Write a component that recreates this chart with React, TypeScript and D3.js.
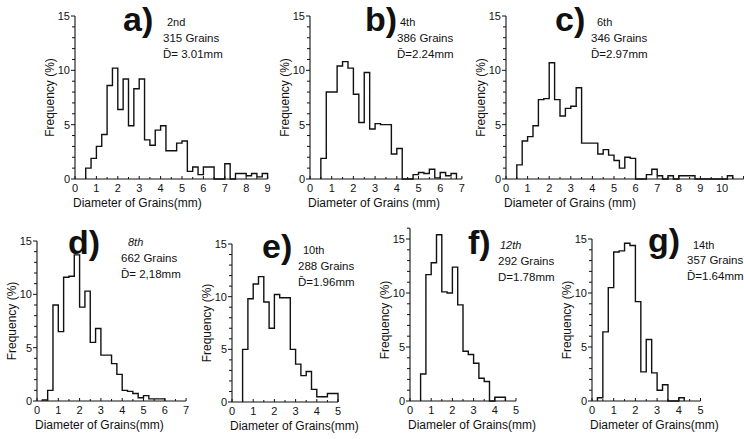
import * as d3 from 'd3';

// panel annotations
const letters = ['a', 'b', 'c', 'd', 'e', 'f', 'g'];
const runs = ['2nd', '4th', '6th', '8th', '10th', '12th', '14th'];
const grainCounts = [315, 386, 346, 662, 288, 292, 357];
const meanDiameters = ['3.01', '2.24', '2.97', '2,18', '1.96', '1.78', '1.64'];
const xTitles = ['Diameter of Grains(mm)', 'Diameter of Grains (mm)', 'Diameter of Grains (mm)',
  'Diameter of Grains(mm)', 'Diameter of Grains(mm)', 'Diameler of Grains(mm)', 'Diameter of Grains(mm)'];

// x axis extent (mm) and last labelled tick
const xMaxes = [9, 7, 11, 7, 5, 5, 5];
const xLabelMax = [9, 7, 10, 7, 5, 5, 5];
const yLabels = [0, 5, 10, 15];

// histogram bins: 0.25 mm wide, first bin left edge per panel
const binWidth = 0.25;
const firstBin = [0.5, 0.5, 0.5, 0.25, 0.5, 0.5, 0.25];

// frequency (%) per bin
const freqA = [1.0, 1.9, 3.0, 4.1, 8.6, 10.2, 6.4, 9.2, 4.9, 8.3, 9.2, 3.6, 3.1, 4.5, 4.9, 2.6, 2.6, 3.3, 3.5,
  0.7, 1.1, 0.4, 1.1, 1.1, 0, 0, 1.4, 0, 0.5, 0.5, 0.3, 0.5, 0.2, 0.5];
const freqB = [1.9, 8.0, 8.0, 10.4, 10.8, 10.2, 7.8, 5.2, 9.8, 4.6, 5.1, 5.0, 5.0, 2.3, 2.8, 0, 0,
  0.4, 0.6, 0.5, 0.9, 0.1, 0.6, 0.3, 0.5];
const freqC = [1.3, 3.5, 3.9, 4.9, 7.3, 7.4, 10.7, 7.3, 5.8, 6.5, 6.7, 8.4, 3.3, 3.3, 3.3, 2.3, 2.7, 2.2,
  1.7, 1.0, 2.0, 1.9, 0, 0, 0.4, 0.9, 0.3, 0, 0.3, 0, 0.3, 0.3, 0.3, 0, 0, 0, 0, 0, 0, 0.3];
const freqD = [0.1, 1.0, 9.0, 6.5, 11.6, 11.7, 13.7, 8.8, 10.3, 5.5, 6.8, 4.3, 4.3, 3.5, 2.5, 1.0, 0.9,
  0.7, 0.3, 0.5, 0.2, 0.2, 0.2];
const freqE = [5.0, 9.8, 11.2, 11.9, 9.5, 7.0, 10.2, 9.9, 9.9, 5.0, 3.6, 2.5, 2.9, 1.2, 0.5, 0.5, 0.8, 0.8];
const freqF = [2.5, 11.7, 12.8, 15.4, 10.1, 10.0, 12.4, 8.9, 4.6, 4.3, 3.5, 2.1, 1.8, 0, 0.35, 0.35];
const freqG = [0.3, 6.4, 10.5, 13.8, 13.9, 14.6, 14.4, 9.2, 2.7, 5.7, 2.6, 1.0, 1.5, 0, 0, 0.3];
const frequencies = [freqA, freqB, freqC, freqD, freqE, freqF, freqG];

// pixel placement of each panel (x of 0 and 1mm scale, y of 0% and 15%) and its labels
const layout = [
  { x0: 75, pxMm: 21.4, yb: 179, y15: 16, yTop: 15, letter: [123, 31], run: [167, 26], info: [163, 42], italic: false, bar: true, sp: ' ' },
  { x0: 310, pxMm: 21.7, yb: 179, y15: 16, yTop: 15, letter: [365, 31], run: [400, 26], info: [397, 42], italic: false, bar: true, sp: '' },
  { x0: 506, pxMm: 21.6, yb: 179, y15: 16, yTop: 15, letter: [555, 31], run: [597, 26], info: [591, 42], italic: false, bar: true, sp: '' },
  { x0: 37, pxMm: 21.3, yb: 401, y15: 241, yTop: 15, letter: [68, 254], run: [128, 246], info: [121, 262], italic: true, bar: true, sp: ' ' },
  { x0: 232, pxMm: 21.2, yb: 402, y15: 244, yTop: 15, letter: [262, 258], run: [303, 254], info: [298, 270], italic: false, bar: true, sp: '' },
  { x0: 410, pxMm: 21.2, yb: 401, y15: 239, yTop: 16, letter: [468, 254], run: [500, 249], info: [498, 265], italic: true, bar: false, sp: '' },
  { x0: 592, pxMm: 21.7, yb: 401, y15: 239, yTop: 15, letter: [648, 252], run: [693, 249], info: [687, 264], italic: false, bar: true, sp: '' },
];

const font = '"Liberation Sans", Arial, sans-serif';
const ink = '#111';

function Panel({ i }: { i: number }) {
  const L = layout[i];
  const x = d3.scaleLinear().domain([0, xMaxes[i]]).range([L.x0, L.x0 + xMaxes[i] * L.pxMm]);
  const y = d3.scaleLinear().domain([0, 15]).range([L.yb, L.y15]);
  const heights = frequencies[i];
  const start = firstBin[i];
  const end = start + heights.length * binWidth;

  const pts: [number, number][] = [[x(start), y(0)]];
  heights.forEach((h, k) => {
    const a = start + k * binWidth;
    pts.push([x(a), y(h)], [x(a + binWidth), y(h)]);
  });
  pts.push([x(end), y(0)]);
  const path = d3.line()(pts) || '';

  const xTicks = d3.range(0, xMaxes[i] + 0.001, 0.5);
  const yTicks = d3.range(0, L.yTop + 0.001, 1);
  const xLabels = d3.range(0, xLabelMax[i] + 1, 1);
  const midY = (y(0) + y(15)) / 2;

  return (
    <g>
      {/* axes */}
      <line x1={x(0)} x2={x(xMaxes[i])} y1={y(0)} y2={y(0)} stroke={ink} strokeWidth={1.1} />
      <line x1={x(0)} x2={x(0)} y1={y(0)} y2={y(L.yTop)} stroke={ink} strokeWidth={1.1} />
      {xTicks.map(t => (
        <line key={'xt' + t} x1={x(t)} x2={x(t)} y1={y(0)} y2={y(0) - (t % 1 === 0 ? 3 : 2)} stroke={ink} strokeWidth={1} />
      ))}
      {yTicks.map(t => (
        <line key={'yt' + t} x1={x(0)} x2={x(0) - (t % 5 === 0 ? 4 : 3)} y1={y(t)} y2={y(t)} stroke={ink} strokeWidth={1} />
      ))}
      {xLabels.map(t => (
        <text key={'xl' + t} x={x(t)} y={y(0) + 13} textAnchor="middle" fontSize={11} fill={ink}>{t}</text>
      ))}
      {yLabels.map(t => (
        <text key={'yl' + t} x={x(0) - 5} y={y(t) + 4} textAnchor="end" fontSize={11} fill={ink}>{t}</text>
      ))}
      <text x={x(0) - 2} y={y(0) + 28} fontSize={12} fill={ink}>{xTitles[i]}</text>
      <text transform={`translate(${x(0) - 21},${midY}) rotate(-90)`} textAnchor="middle" fontSize={12} fill={ink}>Frequency (%)</text>

      {/* histogram */}
      <path d={path} fill="none" stroke={ink} strokeWidth={1.4} />

      {/* annotations */}
      <text x={L.letter[0]} y={L.letter[1]} fontSize={34} fontWeight="bold" fill={ink}>{letters[i]})</text>
      <text x={L.run[0]} y={L.run[1]} fontSize={11} fontStyle={L.italic ? 'italic' : 'normal'} fill={ink}>{runs[i]}</text>
      <text x={L.info[0]} y={L.info[1]} fontSize={11.5} fill={ink}>{grainCounts[i]} Grains</text>
      <text x={L.info[0]} y={L.info[1] + 16} fontSize={11.5} fill={ink}>
        {(L.bar ? 'D\u0304' : 'D') + '=' + L.sp + meanDiameters[i] + 'mm'}
      </text>
    </g>
  );
}

export default function App() {
  return (
    <svg width={744} height={439} style={{ position: 'absolute', left: 0, top: 0, background: '#fff' }} fontFamily={font}>
      <rect width={744} height={439} fill="#fff" />
      {letters.map((_, i) => <Panel key={i} i={i} />)}
    </svg>
  );
}
